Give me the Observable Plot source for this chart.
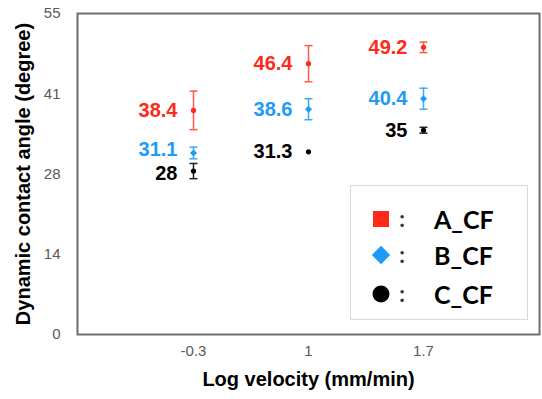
<!DOCTYPE html>
<html><head><meta charset="utf-8">
<script src="https://cdn.jsdelivr.net/npm/d3@7"></script>
<script src="https://cdn.jsdelivr.net/npm/@observablehq/plot@0.6"></script>
<style>
body{margin:0;background:#fff;}
#wrap{position:relative;width:542px;height:399px;}
#legend{position:absolute;left:350px;top:185px;width:178px;height:135px;border:1.5px solid #d9d9d9;background:#fff;box-sizing:border-box;font-family:Lato,"Liberation Sans",sans-serif;}
#legend .it{position:absolute;transform:translate(-50%,-50%);}
#legend .lab{position:absolute;transform:translateY(-50%);font-weight:700;font-size:25px;color:#000;line-height:1;}
#legend .col{position:absolute;transform:translate(-50%,-50%);font-weight:700;font-size:22px;color:#333;line-height:1;}
</style>
</head><body>
<div id="wrap"></div>
<script>
const categories = ["-0.3", "1", "1.7"];
const seriesNames = ["A_CF", "B_CF", "C_CF"];
const aValues = [38.4, 46.4, 49.2];
const bValues = [31.1, 38.6, 40.4];
const cValues = [28, 31.3, 35];
const aErr = [3.3, 3.1, 0.9];
const bErr = [1.0, 1.8, 1.8];
const cErr = [1.3, 0, 0.5];
const yTicks = [0, 13.75, 27.5, 41.25, 55];
const yTickLabels = ["0", "14", "28", "41", "55"];
const colors = ["#FF2A1A", "#1E9BF5", "#000000"];
const errColors = ["#FF5A4E", "#3AA8F7", "#222222"];

const table = [];
[[aValues, aErr], [bValues, bErr], [cValues, cErr]].forEach(([vals, errs], s) => {
  vals.forEach((v, i) => table.push({
    series: seriesNames[s], idx: i, x: categories[i], v, lo: v - errs[i], hi: v + errs[i], err: errs[i]
  }));
});
const withErr = table.filter(d => d.err > 0);
const errStroke = d => errColors[seriesNames.indexOf(d.series)];

// horizontal line symbol for error-bar caps
const capSymbol = {
  draw(context, size) {
    const w = Math.sqrt(size / Math.PI);
    context.moveTo(-w, 0);
    context.lineTo(w, 0);
  }
};

// labels: the two crowded labels at the first category are nudged apart, as in the original
const crowdedB = d => d.idx === 0 && d.series === "B_CF";
const crowdedC = d => d.idx === 0 && d.series === "C_CF";
const labelOpts = {x: "x", y: "v", text: d => String(d.v), fill: "series", textAnchor: "end", dx: -16, fontSize: 20, fontWeight: "bold"};

const chart = Plot.plot({
  width: 542, height: 399,
  marginLeft: 77, marginRight: 3, marginTop: 13, marginBottom: 65,
  style: {fontFamily: "'Liberation Sans', Arial, sans-serif", background: "#fff"},
  x: {type: "point", domain: categories, padding: 1},
  y: {domain: [0, 55]},
  color: {domain: seriesNames, range: colors},
  marks: [
    Plot.frame({stroke: "#6e6e6e", strokeWidth: 2}),
    Plot.axisX({tickSize: 0, tickPadding: 11, fontSize: 15, color: "#595959", label: null}),
    Plot.axisY({ticks: yTicks, tickFormat: d => yTickLabels[yTicks.indexOf(d)], tickSize: 0, tickPadding: 17, fontSize: 15, color: "#595959", label: null}),
    Plot.text(["Log velocity (mm/min)"], {frameAnchor: "bottom", dy: 51, fontSize: 20, fontWeight: "bold", fill: "#000"}),
    Plot.text(["Dynamic contact angle (degree)"], {frameAnchor: "left", textAnchor: "middle", rotate: -90, dx: -54, fontSize: 20, fontWeight: "bold", fill: "#000"}),
    Plot.ruleX(withErr, {x: "x", y1: "lo", y2: "hi", stroke: errStroke, strokeWidth: 1.5}),
    Plot.dot(withErr, {x: "x", y: "lo", symbol: capSymbol, r: 4, fill: "none", stroke: errStroke, strokeWidth: 1.5}),
    Plot.dot(withErr, {x: "x", y: "hi", symbol: capSymbol, r: 4, fill: "none", stroke: errStroke, strokeWidth: 1.5}),
    Plot.dot(table.filter(d => d.series !== "B_CF"), {x: "x", y: "v", r: 2.6, fill: "series", stroke: null}),
    Plot.dot(table.filter(d => d.series === "B_CF"), {x: "x", y: "v", r: 3.2, symbol: "diamond2", fill: "series", stroke: null}),
    Plot.text(table.filter(d => !crowdedB(d) && !crowdedC(d)), labelOpts),
    Plot.text(table.filter(crowdedB), {...labelOpts, dy: -3}),
    Plot.text(table.filter(crowdedC), {...labelOpts, dy: 3})
  ]
});
const wrap = document.getElementById("wrap");
wrap.appendChild(chart);

// legend (HTML overlay inside the plot frame)
const legend = document.createElement("div");
legend.id = "legend";
const rowsY = [33, 69, 108];
const shapes = [
  `<div style="width:16px;height:16px;background:${colors[0]}"></div>`,
  `<div style="width:13px;height:13px;background:${colors[1]};transform:rotate(45deg)"></div>`,
  `<div style="width:17px;height:17px;border-radius:50%;background:${colors[2]}"></div>`
];
seriesNames.forEach((name, i) => {
  legend.insertAdjacentHTML("beforeend",
    `<div class="it" style="left:30px;top:${rowsY[i]}px">${shapes[i]}</div>` +
    `<div class="col" style="left:51px;top:${rowsY[i]}px">:</div>` +
    `<div class="lab" style="left:83px;top:${rowsY[i]}px">${name}</div>`);
});
wrap.appendChild(legend);
</script>
</body></html>
